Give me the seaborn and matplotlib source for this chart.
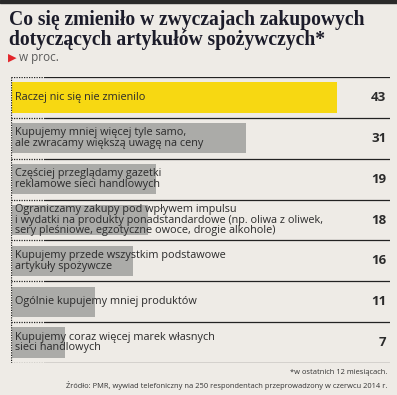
import numpy as np
import pandas as pd
import matplotlib
matplotlib.use('Agg')
import matplotlib.pyplot as plt
import seaborn as sns

# data
labels = [
    "Raczej nic się nie zmienilo",
    "Kupujemy mniej więcej tyle samo,\nale zwracamy większą uwagę na ceny",
    "Częściej przeglądamy gazetki\nreklamowe sieci handlowych",
    "Ograniczamy zakupy pod wpływem impulsu\ni wydatki na produkty ponadstandardowe (np. oliwa z oliwek,\nsery pleśniowe, egzotyczne owoce, drogie alkohole)",
    "Kupujemy przede wszystkim podstawowe\nartykuły spożywcze",
    "Ogólnie kupujemy mniej produktów",
    "Kupujemy coraz więcej marek własnych\nsieci handlowych",
]
values = [43, 31, 19, 18, 16, 11, 7]
highlight = [True, False, False, False, False, False, False]

title = "Co się zmieniło w zwyczajach zakupowych\ndotyczących artykułów spożywczych*"
subtitle = "w proc."
note1 = "*w ostatnich 12 miesiącach."
note2 = "Źródło: PMR, wywiad telefoniczny na 250 respondentach przeprowadzony w czerwcu 2014 r."

BG = '#EEEBE6'
YELLOW = '#F7D812'
GRAY = '#ABABA8'
DARK = '#222222'

sns.set_theme(style='white')
plt.rcParams['font.family'] = ['Open Sans', 'DejaVu Sans']

W, H = 397, 395
fig = plt.figure(figsize=(W / 100, H / 100), dpi=100, facecolor=BG)

df = pd.DataFrame({'label': labels, 'value': values})
palette = [YELLOW if h else GRAY for h in highlight]

# plot area in pixels: x 11..390, y 77..363
ax = fig.add_axes([11 / W, 1 - 363 / H, (390 - 11) / W, (363 - 77) / H])
ax.set_facecolor(BG)
sns.barplot(data=df, x='value', y='label', hue='label', palette=palette,
            legend=False, width=0.74, ax=ax, saturation=1,
            edgecolor='none', linewidth=0)
ax.set_xlim(-0.13, 50)
ax.set_ylim(len(labels) - 0.5, -0.5)
ax.set_xticks([])
ax.set_yticks([])
ax.set_xlabel('')
ax.set_ylabel('')
for s in ax.spines.values():
    s.set_visible(False)

# row separators: dotted on the left, solid afterwards
split = (45 - 11) / (390 - 11)
for k in range(len(labels) + 1):
    y = k - 0.5
    ax.axhline(y, xmin=0, xmax=split, color=DARK, lw=0.9, ls=(0, (1, 1)))
    ax.axhline(y, xmin=split, xmax=1, color=DARK, lw=0.9)
ax.axvline(-0.13, color=DARK, lw=0.9, ls=(0, (1, 1)))

for i, (lab, v) in enumerate(zip(labels, values)):
    ax.text(0.4, i, lab, va='center', ha='left', fontsize=7.85,
            color='#2b2b2b', linespacing=0.95)
    ax.text(49.5, i, str(v), va='center', ha='right', fontsize=9.5,
            fontweight='bold', color='#2b2b2b')

# top dark strip
fig.patches.append(plt.Rectangle((0, 1 - 3 / H), 1, 3 / H, transform=fig.transFigure,
                                 color='#2a2a2a', zorder=5))

fig.text(9 / W, 1 - 10 / H, title, ha='left', va='top', fontsize=14.1,
         fontweight='bold', family=['Liberation Serif', 'DejaVu Serif'],
         color='#1c1c2a', linespacing=0.98)
fig.text(8 / W, 1 - 57.5 / H, '\u25B6', ha='left', va='center', fontsize=8,
         color='#E3262B', family=['DejaVu Sans'])
fig.text(19 / W, 1 - 58 / H, subtitle, ha='left', va='center', fontsize=8.5,
         color='#5a5a5a')

fig.text(387 / W, 1 - 372 / H, note1, ha='right', va='center', fontsize=5.4,
         color='#333333')
fig.text(387 / W, 1 - 385 / H, note2, ha='right', va='center', fontsize=5.4,
         color='#333333')

fig.savefig('out.png', dpi=100, facecolor=BG)
